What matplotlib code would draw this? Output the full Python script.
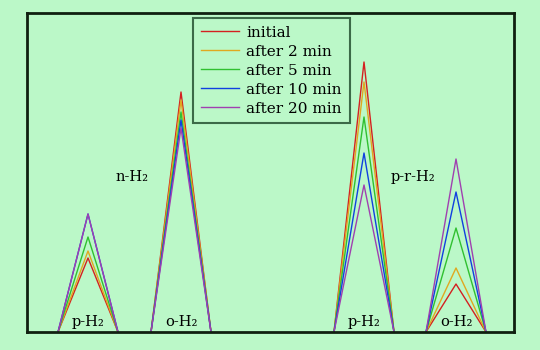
import matplotlib
matplotlib.use("Agg")
import matplotlib.pyplot as plt

# spectral line positions (arbitrary units) and line labels
centers = [61, 154, 337, 429]
half_width = 30
line_labels = ["p-H₂", "o-H₂", "p-H₂", "o-H₂"]
group_labels = ["n-H₂", "p-r-H₂"]
group_pos = [(105, 155), (386, 155)]

# peak heights per series, one value per line
series = ["initial", "after 2 min", "after 5 min", "after 10 min", "after 20 min"]
heights = {
    "initial":      [74, 240, 270, 48],
    "after 2 min":  [81, 232, 250, 64],
    "after 5 min":  [95, 220, 215, 104],
    "after 10 min": [118, 212, 179, 140],
    "after 20 min": [118, 204, 147, 173],
}
colors = ["#d42020", "#e0a820", "#30c030", "#1040e0", "#a040b0"]

bg = "#bbf8c8"
plt.rcParams["font.family"] = ["DejaVu Serif"]

fig = plt.figure(figsize=(5.4, 3.5), dpi=100, facecolor=bg)
ax = fig.add_axes([27 / 540, 18 / 350, 487 / 540, 319 / 350])
ax.set_facecolor(bg)

for name, c in zip(series, colors):
    xs, ys = [], []
    for cx, h in zip(centers, heights[name]):
        xs += [cx - half_width, cx, cx + half_width, None]
        ys += [0, h, 0, None]
    ax.plot(xs, ys, color=c, lw=1.0, label=name)

for cx, lab in zip(centers, line_labels):
    ax.text(cx, 3, lab, ha="center", va="bottom", fontsize=10.5)
for (gx, gy), lab in zip(group_pos, group_labels):
    ax.text(gx, gy, lab, ha="center", va="center", fontsize=10.5)

ax.set_xlim(0, 487)
ax.set_ylim(0, 319)
ax.set_xticks([])
ax.set_yticks([])
for sp in ax.spines.values():
    sp.set_linewidth(2)
    sp.set_color("#102010")

leg = ax.legend(loc="upper left", bbox_to_anchor=(166 / 487, 1 - 5 / 319),
                borderaxespad=0, fontsize=11, frameon=True, fancybox=False,
                handlelength=2.5, borderpad=0.5, labelspacing=0.33,
                handletextpad=0.5)
leg.get_frame().set_facecolor(bg)
leg.get_frame().set_edgecolor("#3c6a48")
leg.get_frame().set_linewidth(1.5)
leg.get_frame().set_alpha(1)

fig.savefig("out.png", dpi=100, facecolor=bg)
